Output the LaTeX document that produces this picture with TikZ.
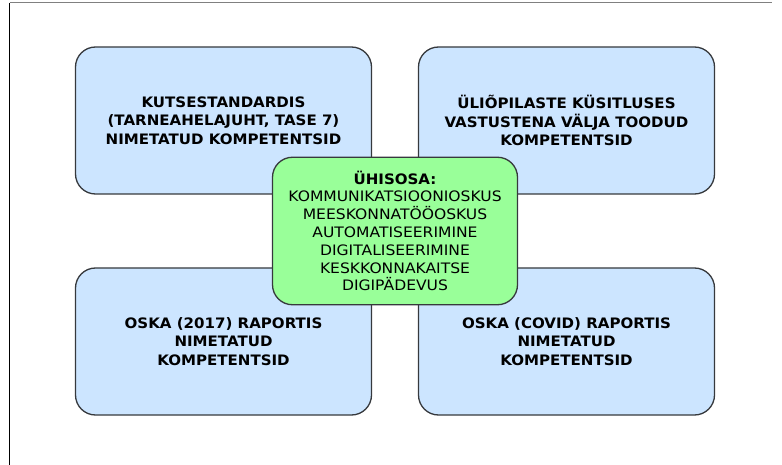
\documentclass[tikz,border=0pt]{standalone}
\usepackage{fontspec}
\setmainfont{DejaVu Sans}
% slightly widened faces for the box labels
\newfontfamily\labelbold[FakeStretch=1.045]{DejaVu Sans Bold}
\newfontfamily\labelplain[FakeStretch=1.08]{DejaVu Sans}
\definecolor{boxblue}{HTML}{CCE5FF}
\definecolor{boxgreen}{HTML}{99FF99}
\definecolor{edgegray}{HTML}{36393D}
\definecolor{framegray}{HTML}{808080}
\begin{document}
\begin{tikzpicture}[x=1pt,y=-1pt,
  quadbox/.style={draw=edgegray, fill=boxblue, line width=1.3pt, rounded corners=20pt,
    minimum width=296pt, minimum height=147pt, inner sep=0pt, align=center,
    font=\fontsize{14.4}{18.5}\selectfont\labelbold},
  sharedbox/.style={draw=edgegray, fill=boxgreen, line width=1.3pt, rounded corners=20pt,
    minimum width=245pt, minimum height=147.5pt, inner sep=0pt, align=center,
    font=\fontsize{14.4}{17.8}\selectfont\labelplain}]
  \useasboundingbox (0,0) rectangle (782,465);
  % page frame
  \coordinate (ftl) at (9.5,3);
  \coordinate (ftr) at (772,3);
  \coordinate (fbl) at (9.5,465);
  \draw[framegray, line width=1pt] (ftl) -- (ftr);
  \draw[black, line width=1.4pt] (ftl) -- (fbl);
  % four source boxes
  \node[quadbox] (tl) at (223.5,120.5) {KUTSESTANDARDIS\\(TARNEAHELAJUHT, TASE 7)\\NIMETATUD KOMPETENTSID};
  \node[quadbox] (tr) at (566.5,120.5) {ÜLIÕPILASTE KÜSITLUSES\\VASTUSTENA VÄLJA TOODUD\\KOMPETENTSID};
  \node[quadbox] (bl) at (223.5,341.5) {OSKA (2017) RAPORTIS\\NIMETATUD\\KOMPETENTSID};
  \node[quadbox] (br) at (566.5,341.5) {OSKA (COVID) RAPORTIS\\NIMETATUD\\KOMPETENTSID};
  % shared part in the middle
  \node[sharedbox] (mid) at (395,231) {{\labelbold ÜHISOSA:}\\KOMMUNIKATSIOONIOSKUS\\MEESKONNATÖÖOSKUS\\AUTOMATISEERIMINE\\DIGITALISEERIMINE\\KESKKONNAKAITSE\\DIGIPÄDEVUS};
\end{tikzpicture}
\end{document}
